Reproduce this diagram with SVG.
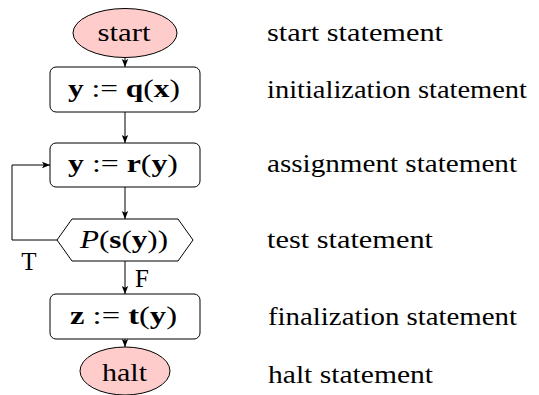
<svg xmlns="http://www.w3.org/2000/svg" width="539" height="395" viewBox="0 0 539 395">
<style>
text{font-family:'Liberation Serif','DejaVu Serif',serif;font-size:25px;fill:#000}
.n{text-anchor:middle}
.b{font-weight:bold}
.i{font-style:italic}
.box{fill:#fff;stroke:#000;stroke-width:1}
.term{fill:#ffcccc;stroke:#000;stroke-width:1}
.edge{fill:none;stroke:#000;stroke-width:1;marker-end:url(#arr)}
</style>
<defs>
<marker id="arr" markerWidth="8" markerHeight="8" viewBox="0 0 8 8" refX="8" refY="4" orient="auto" markerUnits="userSpaceOnUse">
<path d="M0,0.8 L8,4 L0,7.2 L1.8,4 Z" fill="#000"/>
</marker>
</defs>
<rect width="539" height="395" fill="#fff"/>
<g id="connectors">
<line class="edge" x1="125" y1="57.5" x2="125" y2="67"/>
<line class="edge" x1="125" y1="112" x2="125" y2="143"/>
<line class="edge" x1="125" y1="187" x2="125" y2="219"/>
<line class="edge" x1="125" y1="261" x2="125" y2="294"/>
<line class="edge" x1="125" y1="339" x2="125" y2="347"/>
<polyline class="edge" points="57,240 12,240 12,165 50,165"/>
<text x="29" y="270" class="n" font-family="Liberation Serif, DejaVu Serif, serif">T</text>
<text x="142" y="287" class="n" font-family="Liberation Serif, DejaVu Serif, serif">F</text>
</g>
<g id="start">
<ellipse class="term" cx="125" cy="33" rx="52" ry="24.5"/>
<text x="124" y="41" class="n" textLength="53" lengthAdjust="spacingAndGlyphs" font-family="Liberation Serif, DejaVu Serif, serif">start</text>
</g>
<g id="init">
<rect class="box" x="50" y="67" width="150" height="45" rx="6"/>
<text x="124" y="97" class="n" textLength="112" lengthAdjust="spacingAndGlyphs" font-family="Liberation Serif, DejaVu Serif, serif"><tspan class="b">y</tspan> := <tspan class="b">q</tspan>(<tspan class="b">x</tspan>)</text>
</g>
<g id="assign">
<rect class="box" x="50" y="143" width="150" height="44" rx="6"/>
<text x="123" y="172" class="n" textLength="110" lengthAdjust="spacingAndGlyphs" font-family="Liberation Serif, DejaVu Serif, serif"><tspan class="b">y</tspan> := <tspan class="b">r</tspan>(<tspan class="b">y</tspan>)</text>
</g>
<g id="test">
<polygon class="box" points="72,219 178,219 193,240 178,261 72,261 57,240"/>
<text x="124" y="248" class="n" textLength="88" lengthAdjust="spacingAndGlyphs" font-family="Liberation Serif, DejaVu Serif, serif"><tspan class="i">P</tspan>(<tspan class="b">s</tspan>(<tspan class="b">y</tspan>))</text>
</g>
<g id="final">
<rect class="box" x="50" y="294" width="150" height="45" rx="6"/>
<text x="123.5" y="324" class="n" textLength="107" lengthAdjust="spacingAndGlyphs" font-family="Liberation Serif, DejaVu Serif, serif"><tspan class="b">z</tspan> := <tspan class="b">t</tspan>(<tspan class="b">y</tspan>)</text>
</g>
<g id="halt">
<ellipse class="term" cx="125" cy="371" rx="45" ry="24"/>
<text x="124.5" y="381" class="n" textLength="45" lengthAdjust="spacingAndGlyphs" font-family="Liberation Serif, DejaVu Serif, serif">halt</text>
</g>
<g id="labels" font-family="Liberation Serif, DejaVu Serif, serif">
<text x="267" y="41" textLength="176" lengthAdjust="spacingAndGlyphs">start statement</text>
<text x="267" y="98" textLength="260" lengthAdjust="spacingAndGlyphs">initialization statement</text>
<text x="267" y="172" textLength="250" lengthAdjust="spacingAndGlyphs">assignment statement</text>
<text x="267" y="248" textLength="166" lengthAdjust="spacingAndGlyphs">test statement</text>
<text x="268" y="325" textLength="249" lengthAdjust="spacingAndGlyphs">finalization statement</text>
<text x="268" y="383" textLength="165" lengthAdjust="spacingAndGlyphs">halt statement</text>
</g>
</svg>
